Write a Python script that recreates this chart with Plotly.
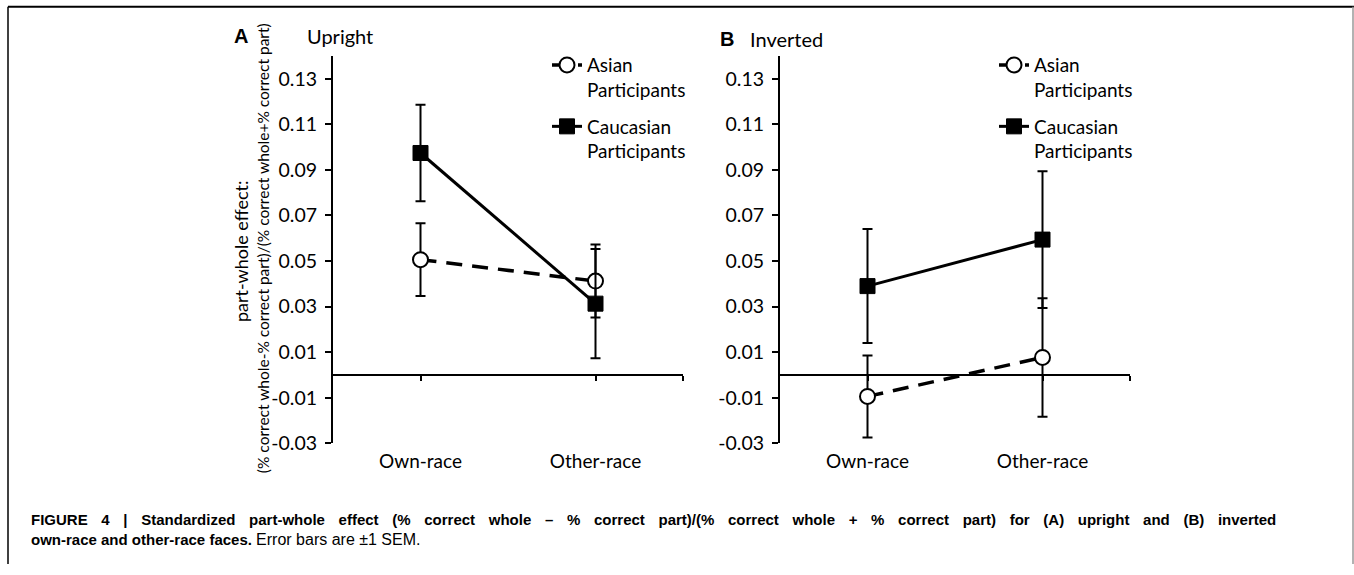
import plotly.graph_objects as go

# ---------------- data ----------------
categories = ["Own-race", "Other-race"]
upright_asian = [0.0506, 0.0412]
upright_asian_sem = [0.016, 0.016]
upright_caucasian = [0.0974, 0.0313]
upright_caucasian_sem = [0.0212, 0.024]
inverted_asian = [-0.0094, 0.0077]
inverted_asian_sem = [0.018, 0.026]
inverted_caucasian = [0.039, 0.0594]
inverted_caucasian_sem = [0.025, 0.030]
y_ticks = [-0.03, -0.01, 0.01, 0.03, 0.05, 0.07, 0.09, 0.11, 0.13]
y_tick_labels = ["-0.03", "-0.01", "0.01", "0.03", "0.05", "0.07", "0.09", "0.11", "0.13"]
series_names = ["Asian<br>Participants", "Caucasian<br>Participants"]

# ---------------- layout helpers ----------------
W, H = 1354, 575
def px(x):
    return x / W
def py(y):
    return 1 - y / H

Y_RANGE = [-0.03, 0.14]
Y_DOMAIN = [py(452), py(57)]
XA_DOMAIN = [px(333), px(683)]
XB_DOMAIN = [px(780), px(1130)]
X_RANGE = [-0.5, 1.5]
xpos = list(range(len(categories)))

zero_pos = Y_DOMAIN[0] + (0 - Y_RANGE[0]) / (Y_RANGE[1] - Y_RANGE[0]) * (Y_DOMAIN[1] - Y_DOMAIN[0])

TICK_FONT = dict(family="Lato", size=19.5, color="black")
CAT_FONT = dict(family="Lato", size=19, color="black")
LEG_FONT = dict(family="Lato", size=19, color="black")
CAP_FONT = "Liberation Sans, Arial, sans-serif"

fig = go.Figure()

def add_panel(asian, asian_sem, cauc, cauc_sem, xa, ya, legend):
    fig.add_trace(go.Scatter(
        x=xpos, y=asian, xaxis=xa, yaxis=ya, name=series_names[0], legend=legend,
        legendgroup=legend + "_asian",
        mode="lines+markers",
        line=dict(color="black", width=3.5, dash="16px,10px"),
        marker=dict(symbol="circle", size=15, color="white", line=dict(color="black", width=2)),
        error_y=dict(type="data", array=asian_sem, visible=True, color="black", thickness=2, width=5),
    ))
    fig.add_trace(go.Scatter(
        x=xpos, y=cauc, xaxis=xa, yaxis=ya, name=series_names[1], legend=legend,
        legendgroup=legend + "_cauc",
        mode="lines+markers",
        line=dict(color="black", width=3),
        marker=dict(symbol="square", size=15, color="black", line=dict(color="black", width=1)),
        error_y=dict(type="data", array=cauc_sem, visible=True, color="black", thickness=2, width=5),
    ))

add_panel(upright_asian, upright_asian_sem, upright_caucasian, upright_caucasian_sem, "x", "y", "legend")
add_panel(inverted_asian, inverted_asian_sem, inverted_caucasian, inverted_caucasian_sem, "x2", "y2", "legend2")

# dummy traces to attach the zero-line axes
fig.add_trace(go.Scatter(x=[None], y=[None], xaxis="x3", yaxis="y", showlegend=False, hoverinfo="skip"))
fig.add_trace(go.Scatter(x=[None], y=[None], xaxis="x4", yaxis="y2", showlegend=False, hoverinfo="skip"))

def label_xaxis(domain, anchor):
    return dict(domain=domain, anchor=anchor, range=X_RANGE, tickvals=xpos, ticktext=categories,
                showline=False, ticks="", showgrid=False, zeroline=False,
                tickfont=CAT_FONT, ticklabelstandoff=5, fixedrange=True)

def zero_xaxis(domain, overlay):
    return dict(domain=domain, overlaying=overlay, anchor="free", position=zero_pos, range=X_RANGE,
                tickvals=xpos + [X_RANGE[1]], showticklabels=False, showline=True, linecolor="black",
                linewidth=2, ticks="outside", ticklen=5, tickwidth=2, tickcolor="black",
                showgrid=False, zeroline=False, fixedrange=True)

def yaxis(anchor):
    return dict(domain=Y_DOMAIN, anchor=anchor, range=Y_RANGE, tickvals=y_ticks, ticktext=y_tick_labels,
                showline=True, linecolor="black", linewidth=2, ticks="outside", ticklen=6, tickwidth=2,
                tickcolor="black", showgrid=False, zeroline=False, tickfont=TICK_FONT,
                ticklabelstandoff=4, fixedrange=True)

annotations = [
    dict(text="<b>A</b>", x=px(241), y=py(37), font=dict(family="Liberation Sans", size=20, color="black")),
    dict(text="Upright", x=px(340), y=py(37), font=dict(family="Lato", size=20, color="black")),
    dict(text="<b>B</b>", x=px(727), y=py(40), font=dict(family="Liberation Sans", size=20, color="black")),
    dict(text="Inverted", x=px(786), y=py(40), font=dict(family="Lato", size=20, color="black")),
    dict(text="part-whole effect:", x=px(241), y=py(256), textangle=-90,
         font=dict(family="Lato", size=18, color="black")),
    dict(text="(% correct whole-% correct part)/(% correct whole+% correct part)", x=px(263), y=py(253),
         textangle=-90, font=dict(family="Lato", size=15.5, color="black")),
    dict(text="<span style='word-spacing:9.5px'><b>FIGURE 4 | Standardized part-whole effect (% correct whole – % correct part)/(% correct whole + % correct part) for (A) upright and (B) inverted</b></span>",
         x=px(29), y=py(530), xanchor="left", font=dict(family=CAP_FONT, size=15, color="black")),
    dict(text="<b>own-race and other-race faces.</b> <span style='font-size:16px'>Error bars are ±1 SEM.</span>",
         x=px(29), y=py(550), xanchor="left", font=dict(family=CAP_FONT, size=15, color="black")),
]
for a in annotations:
    a.update(xref="paper", yref="paper", showarrow=False)
    a.setdefault("xanchor", "center")
    a.setdefault("yanchor", "middle")

shapes = [
    dict(type="line", xref="paper", yref="paper", x0=px(8), x1=1, y0=py(7), y1=py(7), line=dict(color="black", width=2)),
    dict(type="line", xref="paper", yref="paper", x0=px(8), x1=px(8), y0=py(7), y1=0, line=dict(color="black", width=1.5)),
    dict(type="line", xref="paper", yref="paper", x0=px(1353), x1=px(1353), y0=py(7), y1=0, line=dict(color="#999999", width=1.5)),
]

legend_common = dict(xanchor="left", yanchor="top", font=LEG_FONT, bgcolor="rgba(0,0,0,0)",
                     valign="top", tracegroupgap=9, traceorder="grouped", itemclick=False, itemdoubleclick=False)

fig.update_layout(
    width=W, height=H, autosize=False,
    margin=dict(l=0, r=0, t=0, b=0),
    paper_bgcolor="white", plot_bgcolor="white",
    showlegend=True,
    xaxis=label_xaxis(XA_DOMAIN, "y"),
    xaxis2=label_xaxis(XB_DOMAIN, "y2"),
    xaxis3=zero_xaxis(XA_DOMAIN, "x"),
    xaxis4=zero_xaxis(XB_DOMAIN, "x2"),
    yaxis=yaxis("x"),
    yaxis2=yaxis("x2"),
    legend=dict(x=px(547), y=py(47), **legend_common),
    legend2=dict(x=px(994), y=py(47), **legend_common),
    annotations=annotations,
    shapes=shapes,
)

fig.write_html("out.html", post_script="document.body.style.margin='0';", config={"displayModeBar": False})
